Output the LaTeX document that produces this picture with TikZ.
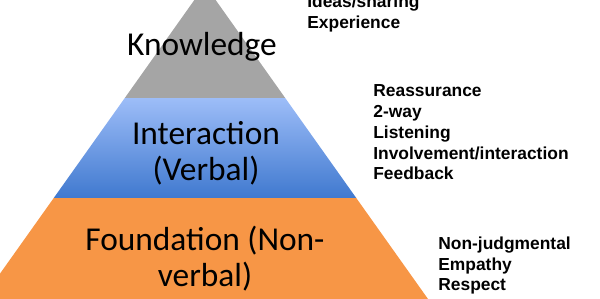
\documentclass[tikz,border=0pt]{standalone}
\usepackage{fontspec}
\setmainfont{Carlito}
\newfontfamily\listfont{Liberation Sans}
\usetikzlibrary{positioning}
\definecolor{pyKnow}{HTML}{A5A5A5}
\definecolor{pyInterTop}{HTML}{9DBDF8}
\definecolor{pyInterBot}{HTML}{4079CF}
\definecolor{pyFound}{HTML}{F79646}

\begin{document}
\begin{tikzpicture}[
  lvl/.style={font=\fontsize{19}{20.5}\selectfont, align=center, inner sep=0pt},
  lst/.style={font=\listfont\bfseries\fontsize{9.9}{11.8}\selectfont, align=left, anchor=north west, inner sep=0pt}
]
\useasboundingbox (0,0) rectangle (12,5.98);
\clip (0,0) rectangle (12,5.98);

% pyramid bands
\fill[pyFound] (-0.36,0) -- (1.075,2.02) -- (7.125,2.02) -- (8.56,0) -- cycle;
\shade[top color=pyInterTop, bottom color=pyInterBot] (1.075,2.02) -- (2.496,4.02) -- (5.704,4.02) -- (7.125,2.02) -- cycle;
\fill[pyKnow] (2.496,4.02) -- (4.10,6.28) -- (5.704,4.02) -- cycle;

\node[lvl] (know) at (4.04,5.04) {Knowledge};
\node[lvl] (inter) at (4.12,2.92) {Interaction\\(Verbal)};
\node[lvl] (found) at (4.10,0.80) {Foundation (Non-\\verbal)};

% what goes with each level
\node[lst] (knowList) at (6.14,6.09) {Ideas/sharing\\Experience};
\node[lst] (interList) at (7.46,4.29) {Reassurance\\2-way\\Listening\\Involvement/interaction\\Feedback};
\node[lst] (foundList) at (8.76,1.25) {Non-judgmental\\Empathy\\Respect};
\end{tikzpicture}
\end{document}
